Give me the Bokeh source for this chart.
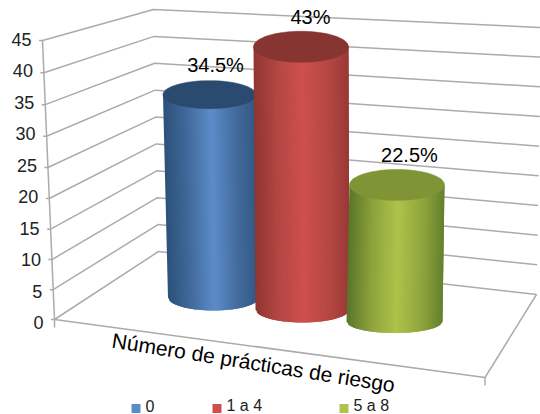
import math
from bokeh.plotting import figure
from bokeh.models import Range1d
from bokeh.core.properties import value
from bokeh.embed import file_html
from bokeh.resources import INLINE

categories = ["0", "1 a 4", "5 a 8"]
values = [34.5, 43, 22.5]
point_labels = ["34.5%", "43%", "22.5%"]
ticks = [0, 5, 10, 15, 20, 25, 30, 35, 40, 45]
axis_title = "Número de prácticas de riesgo"

FONT = value("Liberation Sans")
GRID = "#ABABAB"
TEXT = "#222222"

p = figure(width=540, height=414, output_backend="svg", toolbar_location=None,
           x_range=Range1d(0, 540), y_range=Range1d(414, 0), min_border=0)
p.axis.visible = False
p.grid.visible = False
p.outline_line_color = None
p.background_fill_color = "white"
p.border_fill_color = "white"

VMAX = ticks[-1]


def lerp(a, b, t):
    return a + (b - a) * t


def front(v):
    t = (5.935 * v / (1 - 0.00095 * v)) / 279
    return lerp(54, 42, t), lerp(319, 40, t)


def back(v):
    t = v / VMAX
    return lerp(158, 153, t), lerp(251, 9, t)


def right(v):
    t = v / VMAX
    return lerp(536, 541, t), lerp(294, 27, t)


# walls
for v in ticks:
    fx, fy = front(v)
    bx, by = back(v)
    rx, ry = right(v)
    p.line([fx, bx, rx], [fy, by, ry], line_color=GRID, line_width=1.5)
    p.line([fx - 3.5, fx], [fy, fy], line_color=GRID, line_width=1.5)
    p.text([fx - 11], [lerp(322, 39, v / VMAX)], text=[str(v)], text_font=FONT, text_font_size="18px",
           text_color=TEXT, text_align="right", text_baseline="middle")

fb, ft = front(0), front(VMAX)
p.line([fb[0], ft[0]], [fb[1], ft[1]], line_color=GRID, line_width=1.5)
# floor
FR = (484.5, 377)
rb = right(0)
p.line([fb[0], FR[0], rb[0]], [fb[1], FR[1], rb[1]], line_color=GRID, line_width=1.5)
p.line([fb[0], fb[0]], [fb[1], fb[1] + 8], line_color=GRID, line_width=1.5)
p.line([FR[0], FR[0]], [FR[1], FR[1] + 8], line_color=GRID, line_width=1.5)

# cylinder layout: base cx, cy, rx, ry; top rx, ry; px per unit; lean per unit; label dx
layout = [
    (213, 297, 45.5, 13, 46.5, 14, 5.88, -0.116, 6),
    (302, 309, 47, 13, 47.5, 15.5, 6.11, -0.035, 9.5),
    (394, 321, 48, 11.5, 47.5, 15.5, 6.07, 0.11, 12.5),
]
# edge, mid, centre, top colours
palette = [
    ("#2F547E", "#41699A", "#5C8CC8", "#2A4A70"),
    ("#943733", "#B44643", "#CE504D", "#873530"),
    ("#5F7A2B", "#8CA23C", "#AEC34A", "#7F9535"),
]
legend_x = [131, 212, 339]


def hex_rgb(c):
    return tuple(int(c[i:i + 2], 16) for i in (1, 3, 5))


def mix(c1, c2, t):
    a, b = hex_rgb(c1), hex_rgb(c2)
    return "#%02X%02X%02X" % tuple(round(lerp(a[i], b[i], t)) for i in range(3))


def shade(s, pal):
    d = abs(s - 0.03) / (1.03 if s > 0.03 else 0.97)
    if d < 0.55:
        return mix(pal[2], pal[1], d / 0.55)
    return mix(pal[1], pal[0], (d - 0.55) / 0.45)


N = 64
for i, val in enumerate(values):
    cx, cy, rx, ry, trx, try_, unit, lean, label_dx = layout[i]
    tcx, tcy = cx + lean * val, cy - unit * val
    xs_list, ys_list, cols = [], [], []
    for k in range(N):
        u0, u1 = -1 + 2 * k / N, min(1.0, -1 + 2 * (k + 2) / N)
        s = -1 + 2 * (k + 0.5) / N
        s0, s1 = math.sqrt(max(0, 1 - u0 * u0)), math.sqrt(max(0, 1 - u1 * u1))
        xs_list.append([tcx + trx * u0, tcx + trx * u1, cx + rx * u1, cx + rx * u0])
        ys_list.append([tcy, tcy, cy + ry * s1, cy + ry * s0])
        cols.append(shade(s, palette[i]))
    p.patches(xs_list, ys_list, fill_color=cols, line_color=None)
    ang = [2 * math.pi * a / 72 for a in range(72)]
    p.patch([tcx + trx * math.cos(a) for a in ang], [tcy + try_ * math.sin(a) for a in ang],
            fill_color=palette[i][3], line_color=palette[i][3], line_width=0.5)
    p.text([tcx + label_dx], [tcy - 29.5], text=[point_labels[i]], text_font=FONT, text_font_size="20px",
           text_color="#000000", text_align="center", text_baseline="middle")
    # legend
    lx = legend_x[i]
    p.rect([lx + 4.5], [408], width=9, height=9, fill_color=palette[i][2], line_color=None)
    p.text([lx + 14], [405], text=[categories[i]], text_font=FONT, text_font_size="16px",
           text_color=TEXT, text_align="left", text_baseline="middle")

p.text([253], [362], text=[axis_title], text_font=FONT, text_font_size="21px",
       text_color="#000000", text_align="center", text_baseline="middle",
       angle=-0.158, angle_units="rad")

open("out.html", "w").write(file_html(p, INLINE))
